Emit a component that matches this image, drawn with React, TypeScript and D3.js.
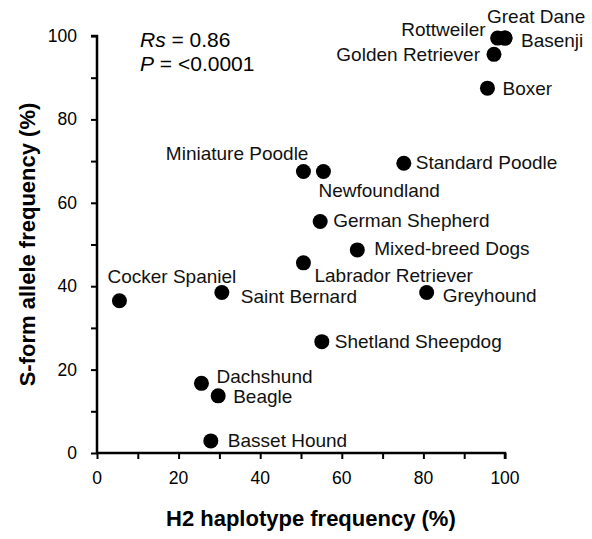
import React, { useEffect, useRef } from "react";
import * as d3 from "d3";

// breeds, H2 haplotype frequency (%), S-form allele frequency (%)
const breeds = [
  "Great Dane", "Rottweiler", "Basenji", "Golden Retriever", "Boxer",
  "Miniature Poodle", "Newfoundland", "Standard Poodle", "German Shepherd",
  "Mixed-breed Dogs", "Labrador Retriever", "Greyhound", "Shetland Sheepdog",
  "Cocker Spaniel", "Saint Bernard", "Dachshund", "Beagle", "Basset Hound",
];
const h2Freq = [100, 98.2, 100, 97.3, 95.7, 50.6, 55.5, 75.2, 54.7, 63.8, 50.6, 80.8, 55.1, 5.5, 30.6, 25.6, 29.7, 27.9];
const sFormFreq = [99.5, 99.5, 99.5, 95.6, 87.5, 67.5, 67.5, 69.5, 55.5, 48.7, 45.6, 38.5, 26.7, 36.5, 38.5, 16.7, 13.7, 2.9];

const xTicks = [0, 20, 40, 60, 80, 100];
const yTicks = [0, 20, 40, 60, 80, 100];

// label placement relative to each dot (px): dx, dy, anchor
const labelOffsets: Record<string, [number, number, string]> = {
  "Great Dane": [-18, -15, "start"],
  "Rottweiler": [-12, -2, "end"],
  "Basenji": [16, 9, "start"],
  "Golden Retriever": [-14, 7, "end"],
  "Boxer": [15, 7, "start"],
  "Miniature Poodle": [5, -12, "end"],
  "Newfoundland": [-5, 25, "start"],
  "Standard Poodle": [12, 6, "start"],
  "German Shepherd": [13, 5, "start"],
  "Mixed-breed Dogs": [17, 5, "start"],
  "Labrador Retriever": [11, 19, "start"],
  "Greyhound": [16, 10, "start"],
  "Shetland Sheepdog": [13, 6, "start"],
  "Cocker Spaniel": [-12, -18, "start"],
  "Saint Bernard": [19, 11, "start"],
  "Dachshund": [15, 0, "start"],
  "Beagle": [15, 7, "start"],
  "Basset Hound": [17, 6, "start"],
};

const W = 592;
const H = 539;

export default function App() {
  const svgRef = useRef<SVGSVGElement>(null);

  useEffect(() => {
    document.body.style.margin = "0";
    if (!svgRef.current) return;
    const svg = d3.select(svgRef.current);
    svg.selectAll("*").remove();

    const font = "'Liberation Sans', Arial, sans-serif";
    const x = d3.scaleLinear().domain([0, 100]).range([97, 505]);
    const y = d3.scaleLinear().domain([0, 100]).range([453, 36]);

    // axes, with minor ticks every 10
    const xAxis = d3.axisBottom(x).tickValues(d3.range(0, 101, 10)).tickSize(6).tickFormat(() => "");
    const yAxis = d3.axisLeft(y).tickValues(d3.range(0, 101, 10)).tickSize(6).tickFormat(() => "");

    const gx = svg.append("g").attr("transform", `translate(0,${y(0)})`).call(xAxis);
    const gy = svg.append("g").attr("transform", `translate(${x(0)},0)`).call(yAxis);
    [gx, gy].forEach((g) => {
      g.select(".domain").attr("stroke", "#000").attr("stroke-width", 2.5);
      g.selectAll(".tick line").attr("stroke", "#000").attr("stroke-width", 2);
    });
    gx.select(".domain").attr("d", `M${x(0) - 1},0H${x(100)}V6`);
    gy.select(".domain").attr("d", `M-6,${y(100)}H0V${y(0) + 1}`);

    svg.append("g").selectAll("text").data(xTicks).join("text")
      .attr("x", (d) => x(d)).attr("y", y(0) + 31)
      .attr("text-anchor", "middle")
      .attr("font-family", font).attr("font-size", 17.5)
      .text((d) => d);

    svg.append("g").selectAll("text").data(yTicks).join("text")
      .attr("x", x(0) - 20).attr("y", (d) => y(d) + 6)
      .attr("text-anchor", "end")
      .attr("font-family", font).attr("font-size", 17.5)
      .text((d) => d);

    // axis titles
    svg.append("text")
      .attr("x", 166).attr("y", 526)
      .attr("font-family", font).attr("font-size", 22).attr("font-weight", "bold")
      .text("H2 haplotype frequency (%)");

    svg.append("text")
      .attr("transform", `translate(35,${(y(0) + y(100)) / 2}) rotate(-90)`)
      .attr("text-anchor", "middle")
      .attr("font-family", font).attr("font-size", 22).attr("font-weight", "bold")
      .text("S-form allele frequency (%)");

    // statistics
    const s1 = svg.append("text").attr("x", 140).attr("y", 47)
      .attr("font-family", font).attr("font-size", 21);
    s1.append("tspan").attr("font-style", "italic").text("Rs");
    s1.append("tspan").text(" = 0.86");
    const s2 = svg.append("text").attr("x", 140).attr("y", 71)
      .attr("font-family", font).attr("font-size", 21);
    s2.append("tspan").attr("font-style", "italic").text("P");
    s2.append("tspan").text(" = <0.0001");

    // points
    const idx = d3.range(breeds.length);
    svg.append("g").selectAll("circle").data(idx).join("circle")
      .attr("cx", (i) => x(h2Freq[i]))
      .attr("cy", (i) => y(sFormFreq[i]))
      .attr("r", 7.5)
      .attr("fill", "#000");

    svg.append("g").selectAll("text").data(idx).join("text")
      .attr("x", (i) => x(h2Freq[i]) + labelOffsets[breeds[i]][0])
      .attr("y", (i) => y(sFormFreq[i]) + labelOffsets[breeds[i]][1])
      .attr("text-anchor", (i) => labelOffsets[breeds[i]][2])
      .attr("font-family", font).attr("font-size", 19)
      .attr("fill", "#111")
      .text((i) => breeds[i]);
  }, []);

  return <svg ref={svgRef} width={W} height={H} style={{ display: "block", background: "#fff" }} />;
}
